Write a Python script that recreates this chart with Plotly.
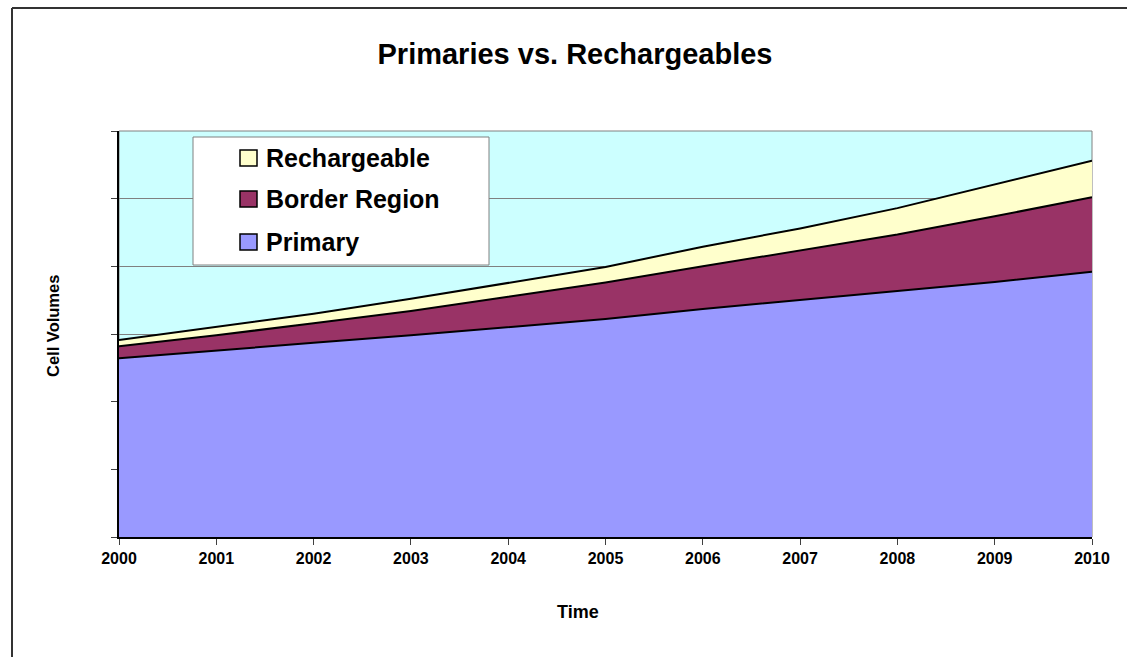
"""Primaries vs. Rechargeables stacked area chart"""
import plotly.graph_objects as go

years = list(range(2000, 2011))
primary = [264, 276, 287, 298, 310, 322, 337, 350, 364, 377, 392]
border_region = [18, 22, 29, 36, 45, 54, 63, 73, 83, 97, 110]
rechargeable = [9, 13, 14, 18, 21, 23, 29, 33, 39, 47, 54]

series = [
    ("Primary", primary, "#9999FF"),
    ("Border Region", border_region, "#993366"),
    ("Rechargeable", rechargeable, "#FFFFCC"),
]

FONT = "Liberation Sans, Arial, sans-serif"


def px_x(x):
    """pixel column -> paper x"""
    return (x - 119) / 973


def px_y(y):
    """pixel row -> paper y"""
    return (537 - y) / 406


fig = go.Figure()

# Stacked areas
for name, values, color in series:
    fig.add_trace(
        go.Scatter(
            x=years,
            y=values,
            name=name,
            mode="lines",
            stackgroup="one",
            fillcolor=color,
            line={"color": "black", "width": 2},
            hoverinfo="x+y+name",
        )
    )

fig.update_layout(
    width=1127,
    height=657,
    margin={"l": 119, "r": 35, "t": 131, "b": 120},
    paper_bgcolor="white",
    plot_bgcolor="#CCFFFF",
    font={"family": FONT, "color": "black"},
    showlegend=False,
    title={
        "text": "<b>Primaries vs. Rechargeables</b>",
        "x": 575 / 1127,
        "xanchor": "center",
        "y": 1 - 54 / 657,
        "yanchor": "middle",
        "font": {"size": 29, "family": FONT},
    },
)

fig.update_xaxes(
    range=[2000, 2010],
    tickvals=years,
    ticktext=[f"<b>{y}</b>" for y in years],
    ticks="outside",
    ticklen=6,
    tickcolor="#404040",
    tickfont={"size": 16},
    showline=True,
    linecolor="black",
    linewidth=2,
    showgrid=False,
    zeroline=False,
)
fig.update_yaxes(
    range=[0, 600],
    dtick=100,
    showticklabels=False,
    ticks="outside",
    ticklen=6,
    tickcolor="#404040",
    showgrid=True,
    gridcolor="#808080",
    gridwidth=1,
    showline=True,
    linecolor="black",
    linewidth=2,
    zeroline=False,
)

# Plot area border and outer chart frame
fig.add_shape(type="rect", xref="paper", yref="paper", x0=0, x1=1, y0=0, y1=1,
              line={"color": "#808080", "width": 1}, layer="below")
fig.add_shape(type="line", xref="paper", yref="paper", x0=px_x(12), x1=1.05,
              y0=px_y(8), y1=px_y(8), line={"color": "#333333", "width": 2})
fig.add_shape(type="line", xref="paper", yref="paper", x0=px_x(12), x1=px_x(12),
              y0=-0.31, y1=px_y(8), line={"color": "#333333", "width": 2})

# Legend box
fig.add_shape(type="rect", xref="paper", yref="paper",
              x0=px_x(193), x1=px_x(489), y0=px_y(265), y1=px_y(137),
              fillcolor="white", line={"color": "#808080", "width": 1})
row_centers = [242, 199, 158]
for (name, _, color), yc in zip(series, row_centers):
    fig.add_shape(type="rect", xref="paper", yref="paper",
                  x0=px_x(240), x1=px_x(257), y0=px_y(yc + 8), y1=px_y(yc - 8),
                  fillcolor=color, line={"color": "black", "width": 1.5})
    fig.add_annotation(text=f"<b>{name}</b>", xref="paper", yref="paper",
                       x=px_x(264), y=px_y(yc), xanchor="left", yanchor="middle",
                       showarrow=False, font={"size": 25})

# Axis titles
fig.add_annotation(text="<b>Time</b>", xref="paper", yref="paper",
                   x=px_x(578), y=px_y(612), xanchor="center", yanchor="middle",
                   showarrow=False, font={"size": 18})
fig.add_annotation(text="<b>Cell Volumes</b>", xref="paper", yref="paper",
                   x=px_x(53), y=px_y(326), xanchor="center", yanchor="middle",
                   showarrow=False, textangle=-90, font={"size": 16.5})

fig.write_html("out.html", config={"displayModeBar": False},
               post_script="document.body.style.margin='0';")
